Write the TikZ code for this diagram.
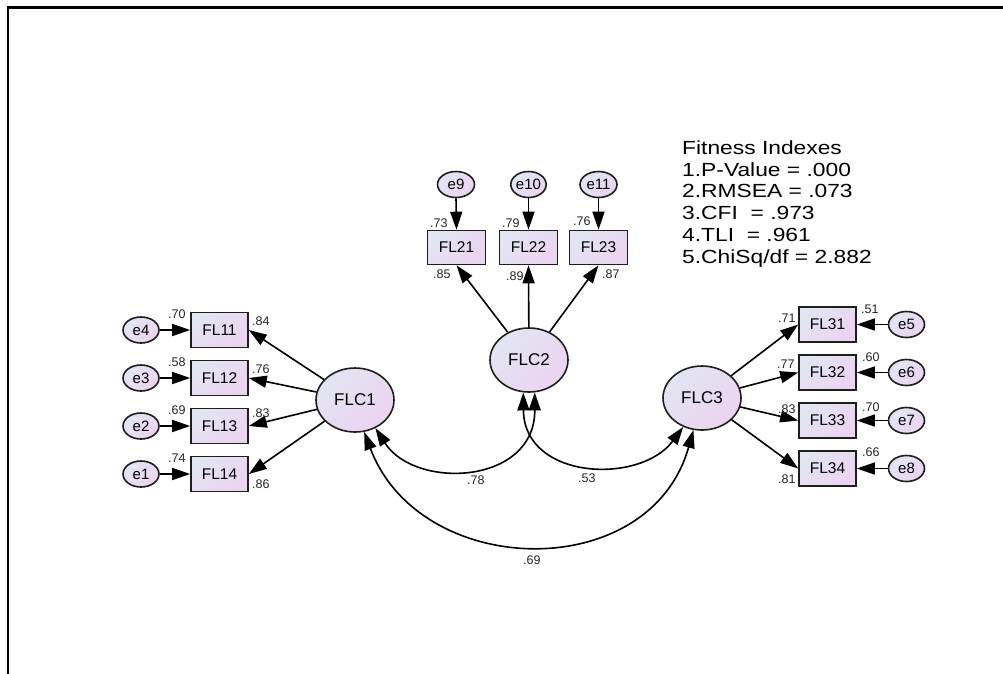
\documentclass[tikz,border=0pt]{standalone}
\usepackage{fontspec}
\setmainfont{Liberation Sans}
\usetikzlibrary{arrows.meta,shapes.geometric}
\definecolor{shA}{HTML}{E2E5F2}
\definecolor{shB}{HTML}{ECD3F1}
\definecolor{edge}{HTML}{1E1E1E}
\tikzset{
  shadefill/.style={top color=shA, bottom color=shB, shading angle=45},
  latent/.style={ellipse, draw=edge, line width=1.6pt, shadefill, minimum width=78pt, minimum height=64pt, inner sep=0pt, font=\fontsize{17}{18}\selectfont},
  obs/.style={rectangle, draw=edge, line width=1.6pt, shadefill, minimum width=57pt, minimum height=35pt, inner sep=0pt, font=\fontsize{15.5}{16}\selectfont},
  err/.style={ellipse, draw=edge, line width=1.6pt, shadefill, minimum width=36pt, minimum height=26pt, inner sep=0pt, font=\fontsize{15}{16}\selectfont},
  arr/.style={-{Triangle[length=18pt,width=12pt]}, line width=1.6pt, draw=black},
  dblarr/.style={{Triangle[length=18pt,width=12pt]}-{Triangle[length=18pt,width=12pt]}, line width=1.6pt, draw=black},
  lab/.style={anchor=base west, inner sep=0pt, font=\fontsize{12.5}{13}\selectfont, text=black!85},
  fit/.style={anchor=base west, inner sep=0pt, font=\fontsize{19}{19}\selectfont, text=black}
}
\begin{document}
\begin{tikzpicture}[x=1pt,y=-1pt]
\useasboundingbox (0,0) rectangle (1003,673);
\fill[white] (0,0) rectangle (1003,673);
\draw[line width=2.6pt, line cap=rect] (8,673) -- (8,7.5) -- (1003,7.5);

% latent variables
\node[latent] (FLC1) at (355,400) {FLC1};
\node[latent] (FLC2) at (529,360) {FLC2};
\node[latent] (FLC3) at (702,398) {FLC3};

% left group
\node[obs] (FL11) at (219.5,330) {FL11};
\node[obs] (FL12) at (219.5,378) {FL12};
\node[obs] (FL13) at (219.5,426) {FL13};
\node[obs] (FL14) at (219.5,474) {FL14};
\node[err] (e4) at (141,330) {e4};
\node[err] (e3) at (141,378) {e3};
\node[err] (e2) at (141,426) {e2};
\node[err] (e1) at (141,474) {e1};

% top group
\node[obs, minimum width=58pt, minimum height=34pt] (FL21) at (456.5,247.5) {FL21};
\node[obs, minimum width=58pt, minimum height=34pt] (FL22) at (528.5,247.5) {FL22};
\node[obs, minimum width=58pt, minimum height=34pt] (FL23) at (598.5,247.5) {FL23};
\node[err, minimum width=37pt] (e9) at (456,184.5) {e9};
\node[err, minimum width=35pt] (e10) at (528.5,184.5) {e10};
\node[err, minimum width=37pt] (e11) at (598.5,184.5) {e11};

% right group
\node[obs] (FL31) at (827.5,324.5) {FL31};
\node[obs] (FL32) at (827.5,372.5) {FL32};
\node[obs] (FL33) at (827.5,420.5) {FL33};
\node[obs] (FL34) at (827.5,468.5) {FL34};
\node[err] (e5) at (906.5,324.5) {e5};
\node[err] (e6) at (906.5,372.5) {e6};
\node[err] (e7) at (906.5,420.5) {e7};
\node[err] (e8) at (906.5,468.5) {e8};

% error arrows
\foreach \e/\f in {e4/FL11,e3/FL12,e2/FL13,e1/FL14}
  \draw[arr] (\e.east) -- (\f.west);
\foreach \e/\f in {e9/FL21,e10/FL22,e11/FL23}
  \draw[arr] (\e.south) -- (\f.north);
\foreach \e/\f in {e5/FL31,e6/FL32,e7/FL33,e8/FL34}
  \draw[arr] (\e.west) -- (\f.east);

% loadings
\foreach \f in {FL11,FL12,FL13,FL14}
  \draw[arr] (FLC1) -- (\f.east);
\foreach \f in {FL21,FL22,FL23}
  \draw[arr] (FLC2) -- (\f.south);
\foreach \f in {FL31,FL32,FL33,FL34}
  \draw[arr] (FLC3) -- (\f.west);

% covariances
\draw[dblarr] (FLC1.-54) .. controls (415,490) and (535,485) .. (FLC2.-80);
\draw[dblarr] (FLC2.-100) .. controls (524,480) and (640,485) .. (FLC3.-123);
\draw[dblarr] (FLC1.-74) .. controls (420,580) and (650,585) .. (FLC3.-105);

% left labels
\node[lab] (v11) at (168,318) {.70};
\node[lab] (v12) at (168,366) {.58};
\node[lab] (v13) at (168,414) {.69};
\node[lab] (v14) at (168,462) {.74};
\node[lab] (l11) at (252,325) {.84};
\node[lab] (l12) at (252,373) {.76};
\node[lab] (l13) at (252,417) {.83};
\node[lab] (l14) at (252,488) {.86};
% top labels
\node[lab] (v21) at (430,227) {.73};
\node[lab] (v22) at (502,227) {.79};
\node[lab] (v23) at (573,225) {.76};
\node[lab] (l21) at (433,278) {.85};
\node[lab] (l22) at (506,280) {.89};
\node[lab] (l23) at (602,278) {.87};
% right labels
\node[lab] (l31) at (778,322) {.71};
\node[lab] (l32) at (777,368) {.77};
\node[lab] (l33) at (778,413) {.83};
\node[lab] (l34) at (778,483) {.81};
\node[lab] (v31) at (861,313) {.51};
\node[lab] (v32) at (862,361) {.60};
\node[lab] (v33) at (862,411) {.70};
\node[lab] (v34) at (862,456) {.66};
% covariance labels
\node[lab] (c12) at (467,484) {.78};
\node[lab] (c23) at (578,482) {.53};
\node[lab] (c13) at (523,564) {.69};

% fitness indexes
\node[fit] (t0) at (682,154.5) {\scalebox{1.2}[1]{Fitness Indexes}};
\node[fit] (t1) at (682,176.2) {\scalebox{1.2}[1]{1.P-Value = .000}};
\node[fit] (t2) at (682,197.9) {\scalebox{1.2}[1]{2.RMSEA = .073}};
\node[fit] (t3) at (682,219.6) {\scalebox{1.2}[1]{3.CFI\ \ = .973}};
\node[fit] (t4) at (682,241.3) {\scalebox{1.2}[1]{4.TLI\ \ = .961}};
\node[fit] (t5) at (682,263.0) {\scalebox{1.2}[1]{5.ChiSq/df = 2.882}};
\end{tikzpicture}
\end{document}
